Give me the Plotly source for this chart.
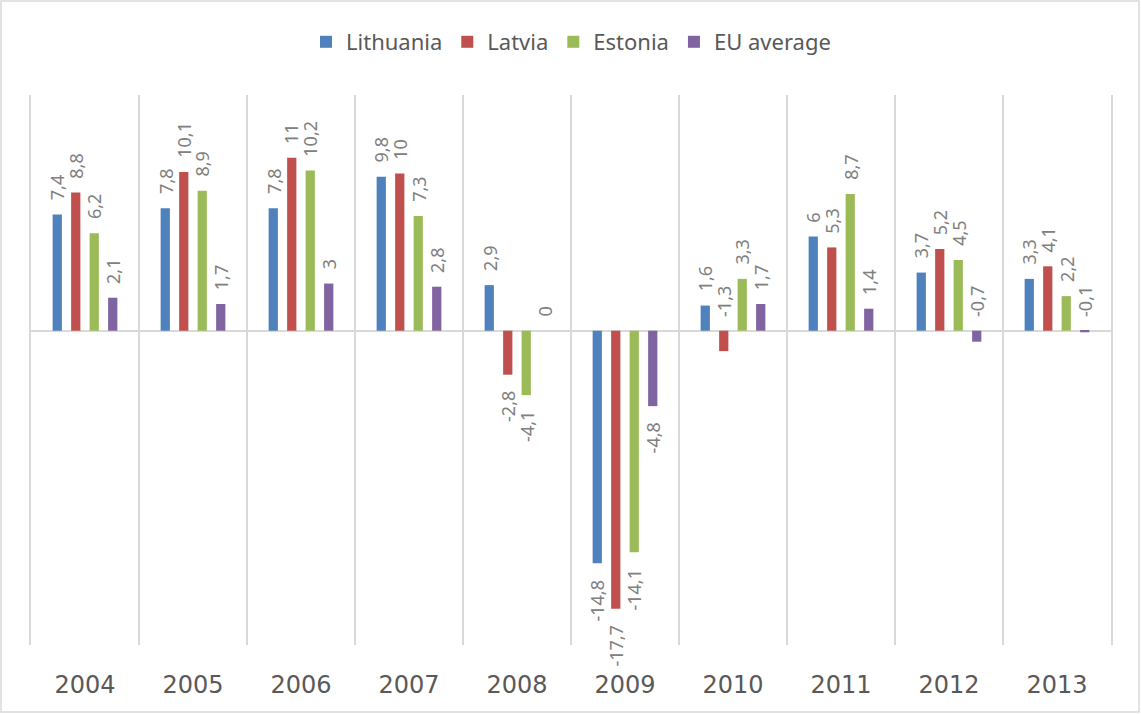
import plotly.graph_objects as go

years = ["2004", "2005", "2006", "2007", "2008", "2009", "2010", "2011", "2012", "2013"]
lithuania = [7.4, 7.8, 7.8, 9.8, 2.9, -14.8, 1.6, 6.0, 3.7, 3.3]
latvia = [8.8, 10.1, 11, 10, -2.8, -17.7, -1.3, 5.3, 5.2, 4.1]
estonia = [6.2, 8.9, 10.2, 7.3, -4.1, -14.1, 3.3, 8.7, 4.5, 2.2]
eu_average = [2.1, 1.7, 3, 2.8, 0, -4.8, 1.7, 1.4, -0.7, -0.1]

series = [
    ("Lithuania", lithuania, "#4F81BD"),
    ("Latvia", latvia, "#C0504D"),
    ("Estonia", estonia, "#9BBB59"),
    ("EU average", eu_average, "#8064A2"),
]

BARGAP = 0.315
GROUPGAP = 0.5
W, H = 1141, 714
M = dict(l=31, r=30, t=95, b=69)

fig = go.Figure()
for name, vals, color in series:
    fig.add_trace(go.Bar(x=years, y=vals, name=name, marker_color=color,
                         marker_line_width=0))

# data labels, rotated like the original
slot = (1 - BARGAP) / len(series)
for k, (name, vals, color) in enumerate(series):
    off = (k - (len(series) - 1) / 2) * slot
    for i, v in enumerate(vals):
        txt = ("%g" % v).replace(".", ",")
        if v > -1.5:
            y, anchor, shift = max(v, 0), "bottom", 12
        else:
            y, anchor, shift = v, "top", -14
        fig.add_annotation(x=i + off, y=y, text=txt, textangle=-90, showarrow=False,
                           yanchor=anchor, xanchor="center", yshift=shift,
                           font=dict(family="Noto Sans", size=18, color="#808080"))

pw = W - M["l"] - M["r"]
ph = H - M["t"] - M["b"]
fig.add_shape(type="rect", xref="paper", yref="paper",
              x0=-(M["l"] - 1) / pw, x1=1 + (M["r"] - 2) / pw,
              y0=-(M["b"] - 2) / ph, y1=1 + (M["t"] - 1) / ph,
              line=dict(color="#d9d9d9", width=1.5), layer="below")

fig.update_layout(
    width=W, height=H, margin=M,
    barmode="group", bargap=BARGAP, bargroupgap=GROUPGAP,
    plot_bgcolor="white", paper_bgcolor="white",
    font=dict(family="Noto Sans", color="#595959"),
    legend=dict(orientation="h", x=0.5, xanchor="center", y=1 + 53 / ph, yanchor="middle",
                font=dict(size=22, color="#595959"), itemwidth=30, traceorder="normal"),
    xaxis=dict(type="category", tickson="boundaries", showgrid=True, gridcolor="#d9d9d9",
               gridwidth=1.5, ticks="", showline=False, zeroline=False,
               tickfont=dict(family="DejaVu Sans", size=24, color="#595959"),
               ticklabelstandoff=23),
    yaxis=dict(range=[-20, 15], showgrid=False, showticklabels=False, zeroline=True,
               zerolinecolor="#d9d9d9", zerolinewidth=2,
               showline=True, mirror=True, linecolor="#d9d9d9", linewidth=1.5),
)

fig.write_html("out.html", config={"displayModeBar": False},
               post_script="document.body.style.margin='0';")
